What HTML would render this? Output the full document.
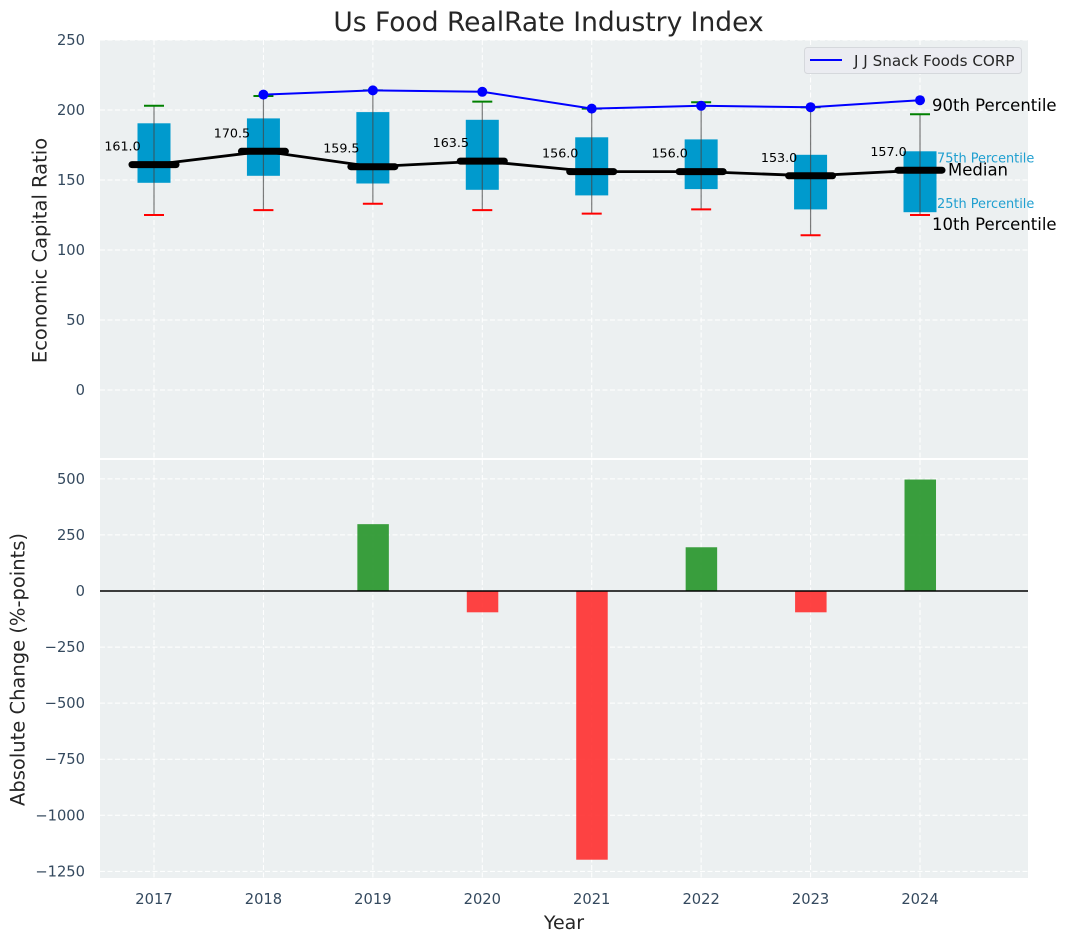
<!DOCTYPE html>
<html>
<head>
<meta charset="utf-8">
<title>Us Food RealRate Industry Index</title>
<style>
html,body{margin:0;padding:0;background:#fff;}
svg{display:block;font-family:"DejaVu Sans","Liberation Sans",sans-serif;}
</style>
</head>
<body>
<svg id="chart" xmlns="http://www.w3.org/2000/svg" width="1067" height="942" viewBox="0 0 1067 942"></svg>
<script>
const years = [2017, 2018, 2019, 2020, 2021, 2022, 2023, 2024];
const p10 = [125, 128.5, 133, 128.5, 126, 129, 110.5, 125];
const p25 = [148, 153, 147.5, 143, 139, 143.5, 129, 127];
const medians = [161.0, 170.5, 159.5, 163.5, 156.0, 156.0, 153.0, 157.0];
const p75 = [190.5, 194, 198.5, 193, 180.5, 179, 168, 170.5];
const p90 = [203, 210, 214, 206, 201, 205.5, 202, 197];
const companyYears = [2018, 2019, 2020, 2021, 2022, 2023, 2024];
const companyValues = [211, 214, 213, 201, 203, 202, 207];
const changeYears = [2019, 2020, 2021, 2022, 2023, 2024];
const changeValues = [298, -95, -1198, 195, -95, 497];
const topTicks = [0, 50, 100, 150, 200, 250];
const bottomTicks = [500, 250, 0, -250, -500, -750, -1000, -1250];

const svg = document.getElementById('chart');
const NS = 'http://www.w3.org/2000/svg';
const L = 100, R = 1028, T1 = 40, B1 = 458, T2 = 460, B2 = 878;
const xS = v => 154 + (v - 2017) * 109.43;
const yTop = v => 390 - v * 1.4;
const yBot = v => 591 - v * 0.2243;

function make(tag, attrs, text) {
  const el = document.createElementNS(NS, tag);
  for (const k in attrs) el.setAttribute(k, attrs[k]);
  if (text !== undefined) el.textContent = text;
  svg.appendChild(el);
  return el;
}
function line(x1, y1, x2, y2, stroke, w, extra) {
  return make('line', Object.assign({x1: x1, y1: y1, x2: x2, y2: y2, stroke: stroke, 'stroke-width': w}, extra || {}));
}
const fmtTick = v => (v < 0 ? '\u2212' + Math.abs(v) : String(v));
const dash = {'stroke-dasharray': '5 2.5'};
let el;

/* panels */
el = make('rect', {x: L, y: T1, width: R - L, height: B1 - T1, fill: '#ecf0f1'});


el = make('rect', {x: L, y: T2, width: R - L, height: B2 - T2, fill: '#ecf0f1'});



/* grids */
years.forEach(function (yr) {
  el = line(xS(yr), T1, xS(yr), B1, '#fff', 1, dash);
  
  
  el = line(xS(yr), T2, xS(yr), B2, '#fff', 1, dash);
  
  
  el = make('text', {x: xS(yr), y: 904, 'text-anchor': 'middle', 'font-size': 14.7, fill: '#34495e'}, String(yr));
  
  
});
topTicks.forEach(function (t) {
  el = line(L, yTop(t), R, yTop(t), '#fff', 1, dash);
  
  
  el = make('text', {x: 85, y: yTop(t) + 5, 'text-anchor': 'end', 'font-size': 14.7, fill: '#34495e'}, fmtTick(t));
  
  
});
bottomTicks.forEach(function (t) {
  el = line(L, yBot(t), R, yBot(t), '#fff', 1, dash);
  
  
  el = make('text', {x: 85, y: yBot(t) + 5, 'text-anchor': 'end', 'font-size': 14.7, fill: '#34495e'}, fmtTick(t));
  
  
});

/* boxes */
years.forEach(function (yr, i) {
  const cx = xS(yr);
  el = make('rect', {x: cx - 16.5, y: yTop(p75[i]), width: 33, height: yTop(p25[i]) - yTop(p75[i]), fill: '#009acd'});
  
  
  el = line(cx, yTop(p90[i]), cx, yTop(p10[i]), '#444', 1.2, {'stroke-opacity': 0.7});
  
  
  el = line(cx - 10, yTop(p90[i]), cx + 10, yTop(p90[i]), '#008000', 2);
  
  
  el = line(cx - 10, yTop(p10[i]), cx + 10, yTop(p10[i]), '#ff0000', 2);
  
  
});

/* median line */
el = make('polyline', {points: years.map(function (yr, i) { return xS(yr) + ',' + yTop(medians[i]); }).join(' '), fill: 'none', stroke: '#000', 'stroke-width': 2.8});


years.forEach(function (yr, i) {
  const cx = xS(yr), cy = yTop(medians[i]);
  el = line(cx - 22, cy, cx + 22, cy, '#000', 7, {'stroke-linecap': 'round'});
  
  
  el = make('text', {x: cx - 31.5, y: cy - 14, 'text-anchor': 'middle', 'font-size': 12.7, fill: '#000'}, medians[i].toFixed(1));
  
  
});

/* company line */
el = make('polyline', {points: companyYears.map(function (yr, i) { return xS(yr) + ',' + yTop(companyValues[i]); }).join(' '), fill: 'none', stroke: '#0000ff', 'stroke-width': 2});


companyYears.forEach(function (yr, i) {
  el = make('circle', {cx: xS(yr), cy: yTop(companyValues[i]), r: 5, fill: '#0000ff'});
  
  
});

/* change bars */
changeYears.forEach(function (yr, i) {
  const v = changeValues[i];
  const y0 = yBot(Math.max(v, 0)), y1 = yBot(Math.min(v, 0));
  el = make('rect', {x: xS(yr) - 15.5, y: y0, width: 31.5, height: y1 - y0, fill: v >= 0 ? '#269529' : '#ff2f2f', opacity: 0.9});
  
  
});
el = line(L, yBot(0), R, yBot(0), '#000', 1.4);



/* annotations for the last year */
const last = years.length - 1;
const lx = xS(years[last]);
el = make('text', {x: lx + 12, y: yTop(p90[last]) - 3, 'font-size': 16.5, fill: '#000'}, '90th Percentile');


el = make('text', {x: lx + 12, y: yTop(p10[last]) + 15, 'font-size': 16.5, fill: '#000'}, '10th Percentile');


el = make('text', {x: lx + 28, y: yTop(medians[last]) + 5.5, 'font-size': 16.5, fill: '#000'}, 'Median');


el = make('text', {x: lx + 17, y: yTop(p75[last]) + 11, 'font-size': 12.9, fill: '#1f9fd0'}, '75th Percentile');


el = make('text', {x: lx + 17, y: yTop(p25[last]) - 4, 'font-size': 12.9, fill: '#1f9fd0'}, '25th Percentile');



/* titles */
el = make('text', {x: 548.5, y: 31, 'text-anchor': 'middle', 'font-size': 26.5, fill: '#262626'}, 'Us Food RealRate Industry Index');


el = make('text', {x: 564, y: 929, 'text-anchor': 'middle', 'font-size': 19, fill: '#262626'}, 'Year');


el = make('text', {x: 0, y: 0, 'text-anchor': 'middle', 'font-size': 19.5, fill: '#262626', transform: 'translate(46.5,250.5) rotate(-90)'}, 'Economic Capital Ratio');


el = make('text', {x: 0, y: 0, 'text-anchor': 'middle', 'font-size': 19.5, fill: '#262626', transform: 'translate(24.5,669.5) rotate(-90)'}, 'Absolute Change (%-points)');



/* legend */
el = make('rect', {x: 804.5, y: 47.5, width: 217, height: 26, rx: 3, fill: '#ebecf1', stroke: '#d5d8dc', 'stroke-width': 1});


el = line(810, 60, 842, 60, '#0000ff', 2);


el = make('text', {x: 854, y: 66, 'font-size': 15.2, fill: '#262626'}, 'J J Snack Foods CORP');


</script>
</body>
</html>
